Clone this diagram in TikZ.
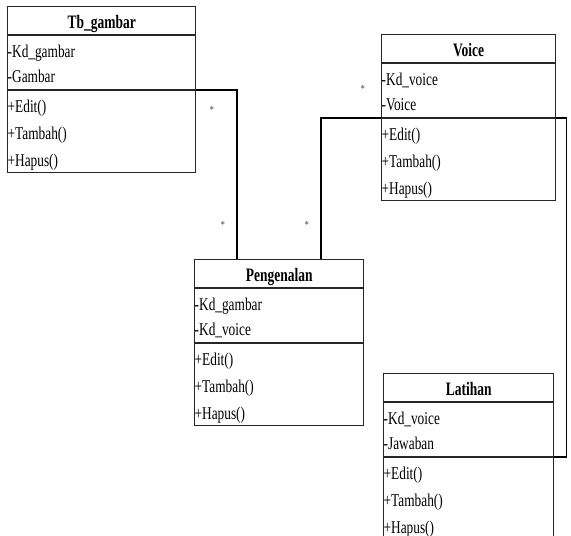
\documentclass[tikz,border=0pt]{standalone}
\usepackage{fontspec}
\setmainfont[FakeStretch=0.74]{Liberation Serif}
\newfontfamily\titlefamily[FakeStretch=0.71]{Liberation Serif}
\usetikzlibrary{calc}

\tikzset{
  classbox/.style={draw=black!85, line width=1.3pt, fill=white, inner sep=0pt, anchor=north west},
  divider/.style={draw=black!85, line width=1.3pt},
  member/.style={anchor=base west, inner sep=0pt, font=\fontsize{18}{21}\selectfont},
  classtitle/.style={anchor=base, inner sep=0pt, font=\titlefamily\fontsize{19}{22}\selectfont\bfseries},
  assoc/.style={draw=black, line width=1.3pt},
  mult/.style={inner sep=0pt, font=\fontsize{11}{12}\selectfont, text=black!75},
}

% #1 name, #2 x, #3 y, #4 width, #5 title, #6 first attribute, #7 second attribute
\newcommand{\umlclass}[7]{%
  \node[classbox, minimum width=#4pt, minimum height=166pt] (#1) at (#2,#3) {};
  \draw[divider] ([yshift=-29pt]#1.north west) -- ([yshift=-29pt]#1.north east);
  \draw[divider] ([yshift=-84pt]#1.north west) -- ([yshift=-84pt]#1.north east);
  \node[classtitle] (#1-title) at ([yshift=-22pt]#1.north) {#5};
  \node[member] (#1-a1) at ([xshift=0.5pt,yshift=-51pt]#1.north west) {-#6};
  \node[member] (#1-a2) at ([xshift=0.5pt,yshift=-76pt]#1.north west) {-#7};
  \node[member] (#1-o1) at ([xshift=0.5pt,yshift=-106pt]#1.north west) {+Edit()};
  \node[member] (#1-o2) at ([xshift=0.5pt,yshift=-133pt]#1.north west) {+Tambah()};
  \node[member] (#1-o3) at ([xshift=0.5pt,yshift=-160pt]#1.north west) {+Hapus()};
}

\begin{document}
\begin{tikzpicture}[x=1pt, y=-1pt]
  \clip (0,0) rectangle (571,536);
  \fill[white] (0,0) rectangle (571,536);

  % classes
  \umlclass{tb}{7}{6}{188}{Tb\_gambar}{Kd\_gambar}{Gambar}
  \umlclass{voice}{381}{34}{174}{Voice}{Kd\_voice}{Voice}
  \umlclass{peng}{194}{259}{169}{Pengenalan}{Kd\_gambar}{Kd\_voice}
  \umlclass{lat}{383}{373}{170}{Latihan}{Kd\_voice}{Jawaban}

  % associations
  \coordinate (tbport) at ([yshift=-84pt]tb.north east);
  \coordinate (pengleft) at ($(peng.north west)+(43,0)$);
  \coordinate (pengright) at ($(peng.north west)+(127,0)$);
  \coordinate (voiceport) at ([yshift=-84pt]voice.north west);
  \coordinate (voiceout) at ([yshift=-84pt]voice.north east);
  \coordinate (latport) at ([yshift=-84pt]lat.north east);

  \draw[assoc] (tbport) -| (pengleft);
  \draw[assoc] (pengright) |- (voiceport);
  \draw[assoc] (voiceout) -- ++(10,0) |- (latport);

  % multiplicities
  \node[mult] (m1) at (212,110) {*};
  \node[mult] (m2) at (223,225) {*};
  \node[mult] (m3) at (307,225) {*};
  \node[mult] (m4) at (363,89) {*};
\end{tikzpicture}
\end{document}
